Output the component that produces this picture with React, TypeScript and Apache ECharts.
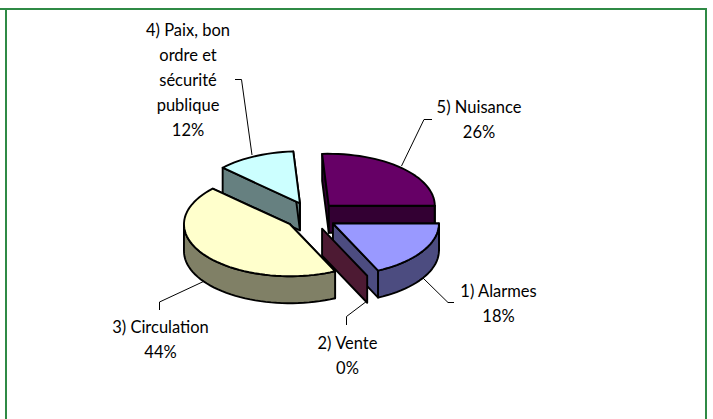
import React, { useEffect, useRef } from "react";
import * as echarts from "echarts";

const categories = ["1) Alarmes", "2) Vente", "3) Circulation", "4) Paix, bon\nordre et\nsécurité\npublique", "5) Nuisance"];
const values = [18, 0, 44, 12, 26];
const topColors = ["#9999ff", "#993366", "#ffffcc", "#ccffff", "#660066"];
const sideColors = ["#4c4c80", "#4d1a33", "#808066", "#668080", "#330033"];
const drawOrder = [4, 3, 2, 0, 1];

const labelCenters = [
  [498.5, 303],
  [347.5, 355.5],
  [160.5, 339],
  [188, 79.5],
  [479, 119],
];
const leaders = [
  [[454, 302.5], [448, 302.5], [423, 278]],
  [[346.5, 325], [346.5, 316.5], [367, 301]],
  [[159.5, 310], [159.5, 302], [203.5, 281.5]],
  [[235, 79.5], [241.5, 79.5], [252, 155]],
  [[432, 119.5], [424, 119.5], [401.5, 166]],
];

const CX = 311, CY = 216, RX = 106, RY = 52, DEPTH = 27, EX = 26, EY = 14, FIRST_ANGLE = 90;
const FONT = '16.5px Lato';
const GREEN = "#2f8a45";

const total = values.reduce((a, b) => a + b, 0);
const pt = (ax: number, ay: number, deg: number, dy = 0) => {
  const r = (deg * Math.PI) / 180;
  return [ax + RX * Math.sin(r), ay - RY * Math.cos(r) + dy];
};
const arc = (ax: number, ay: number, a: number, b: number, dy = 0) => {
  const pts: number[][] = [];
  const n = Math.max(1, Math.ceil(Math.abs(b - a) / 3));
  for (let i = 0; i <= n; i++) pts.push(pt(ax, ay, a + ((b - a) * i) / n, dy));
  return pts;
};

function sliceAngles(i: number) {
  let a = FIRST_ANGLE;
  for (let k = 0; k < i; k++) a += (values[k] / total) * 360;
  return [a, a + (values[i] / total) * 360];
}

function renderSlice(_params: any, api: any) {
  const i = api.value(0);
  const [a, b] = sliceAngles(i);
  const m = ((a + b) / 2) * (Math.PI / 180);
  const ax = CX + EX * Math.sin(m);
  const ay = CY - EY * Math.cos(m);
  const side = { fill: sideColors[i], stroke: "#000", lineWidth: 1.9, lineJoin: "round" };
  const top = { fill: topColors[i], stroke: "#000", lineWidth: 1.9, lineJoin: "round" };
  const children: any[] = [];
  const poly = (points: number[][], style: any) => children.push({ type: "polygon", shape: { points }, style });
  const cut = (deg: number) => {
    const p = pt(ax, ay, deg);
    poly([[ax, ay], p, [p[0], p[1] + DEPTH], [ax, ay + DEPTH]], side);
  };
  cut(a);
  if (b > a) cut(b);
  // outer wall: only the part of the rim that faces the viewer
  for (const [lo, hi] of [[90, 270], [450, 630]]) {
    const s = Math.max(a, lo), e = Math.min(b, hi);
    if (e > s) poly([...arc(ax, ay, s, e), ...arc(ax, ay, e, s, DEPTH)], side);
  }
  if (b > a) poly([[ax, ay], ...arc(ax, ay, a, b)], top);
  return { type: "group", children };
}

export default function App() {
  const ref = useRef<HTMLDivElement>(null);
  useEffect(() => {
    document.body.style.margin = "0";
    const chart = echarts.init(ref.current!, undefined, { renderer: "svg" });
    const graphics: any[] = [
      { type: "line", shape: { x1: 0, y1: 9, x2: 707, y2: 9 }, style: { stroke: GREEN, lineWidth: 2 } },
      { type: "line", shape: { x1: 6, y1: 8, x2: 6, y2: 419 }, style: { stroke: GREEN, lineWidth: 2 } },
      { type: "line", shape: { x1: 706, y1: 8, x2: 706, y2: 419 }, style: { stroke: GREEN, lineWidth: 2 } },
    ];
    categories.forEach((c, i) => {
      graphics.push({
        type: "polyline",
        shape: { points: leaders[i] },
        style: { stroke: "#000", lineWidth: 1, fill: "none" },
      });
      graphics.push({
        type: "text",
        x: labelCenters[i][0],
        y: labelCenters[i][1],
        style: {
          text: `${c}\n${values[i]}%`,
          font: FONT,
          fill: "#000",
          align: "center",
          verticalAlign: "middle",
          lineHeight: 25,
        },
      });
    });
    chart.setOption({
      animation: false,
      backgroundColor: "#fff",
      graphic: { elements: graphics },
      series: [
        {
          type: "custom",
          coordinateSystem: "none",
          silent: true,
          renderItem: renderSlice,
          data: drawOrder.map((i) => ({ name: categories[i], value: [i, values[i]] })),
        },
      ],
    });
    return () => chart.dispose();
  }, []);
  return <div ref={ref} style={{ width: 713, height: 419 }} />;
}
